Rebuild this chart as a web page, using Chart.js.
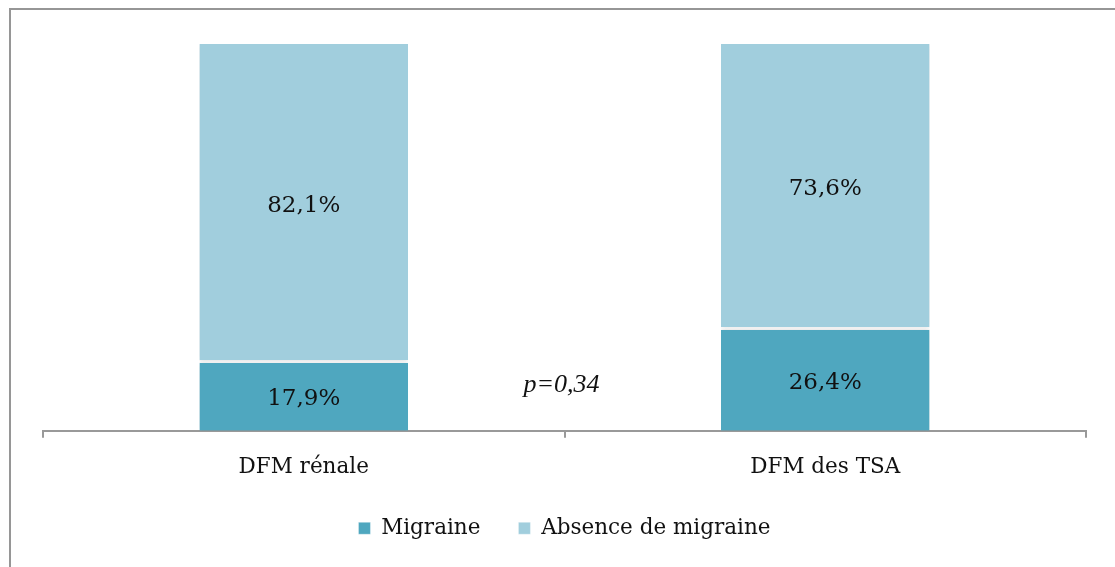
<!DOCTYPE html>
<html>
<head>
<meta charset="utf-8">
<script src="https://cdn.jsdelivr.net/npm/chart.js@4/dist/chart.umd.min.js"></script>
<style>
  html, body { margin: 0; padding: 0; background: #fff; }
  #wrap { width: 1115px; height: 567px; position: relative; }
</style>
</head>
<body>
<div id="wrap"><canvas id="chart"></canvas></div>
<script>
// ── Data ─────────────────────────────────
const categories = ['DFM rénale', 'DFM des TSA'];
const migraine   = [17.9, 26.4];
const absence    = [82.1, 73.6];
const seriesNames = ['Migraine', 'Absence de migraine'];
const pLabel = 'p=0,34';

const colDark  = '#4fa7bf';
const colLight = '#a1cedd';
const serif = "'DejaVu Serif', 'Liberation Serif', serif";

// ── Plugins ──────────────────────────────
const frame = {
    id: 'frame',
    beforeDraw(chart) {
        const c = chart.ctx;
        c.save();
        c.strokeStyle = '#969696';
        c.lineWidth = 2;
        c.strokeRect(10, 9, 1120, 580);
        c.restore();
    }
};

// wide item spacing pushes the legend down; pull it back up
const legendLift = {
    id: 'legendLift',
    afterLayout(chart) {
        if (!chart.legend) return;
        chart.legend.top -= 18;
        chart.legend.bottom -= 18;
    }
};

// soft shadow behind the bars
const barShadow = {
    id: 'barShadow',
    beforeDatasetsDraw(chart) {
        const c = chart.ctx;
        c.save();
        c.shadowColor = 'rgba(0,0,0,0.18)';
        c.shadowBlur = 5;
    },
    afterDatasetsDraw(chart) {
        chart.ctx.restore();
    }
};

const valueLabels = {
    id: 'valueLabels',
    afterDatasetsDraw(chart) {
        const c = chart.ctx;
        c.save();
        c.font = "23px " + serif;
        c.fillStyle = '#111';
        c.textAlign = 'center';
        c.textBaseline = 'middle';
        chart.data.datasets.forEach((ds, i) => {
            chart.getDatasetMeta(i).data.forEach((bar, j) => {
                const mid = (bar.y + bar.base) / 2;
                c.fillText(ds.data[j].toFixed(1).replace('.', ',') + '%', bar.x, mid + 3);
            });
        });
        // p value between the bars
        const xs = chart.scales.x, ys = chart.scales.y;
        const px = (xs.getPixelForValue(0) + xs.getPixelForValue(1)) / 2;
        c.font = "italic 26px 'Liberation Serif', serif";
        c.fillText(pLabel, px - 3, ys.getPixelForValue(11.8));
        c.restore();
    }
};

// ── Chart ────────────────────────────────
new Chart(document.getElementById('chart'), {
    type: 'bar',
    data: {
        labels: categories,
        datasets: [
            { label: seriesNames[0], data: migraine, backgroundColor: colDark,
              borderColor: '#fff', borderWidth: { top: 1.5 }, borderSkipped: false },
            { label: seriesNames[1], data: absence, backgroundColor: colLight,
              borderColor: '#fff', borderWidth: { bottom: 1.5 }, borderSkipped: false }
        ]
    },
    plugins: [frame, legendLift, barShadow, valueLabels],
    options: {
        responsive: true,
        maintainAspectRatio: false,
        animation: false,
        barPercentage: 0.4,
        categoryPercentage: 1,
        layout: { padding: { top: 44, left: 43, right: 29, bottom: 0 } },
        plugins: {
            tooltip: { enabled: false },
            legend: {
                position: 'bottom',
                labels: {
                    font: { family: serif, size: 21.5 },
                    color: '#111',
                    boxWidth: 12, boxHeight: 12,
                    padding: 38
                }
            }
        },
        scales: {
            x: {
                stacked: true,
                grid: { drawOnChartArea: false, color: '#999', lineWidth: 2, tickLength: 7, tickColor: '#999' },
                border: { color: '#999', width: 2 },
                ticks: { color: '#111', font: { family: serif, size: 21.5 }, padding: 17 }
            },
            y: {
                stacked: true, display: false, min: 0, max: 100
            }
        }
    }
});
</script>
</body>
</html>
